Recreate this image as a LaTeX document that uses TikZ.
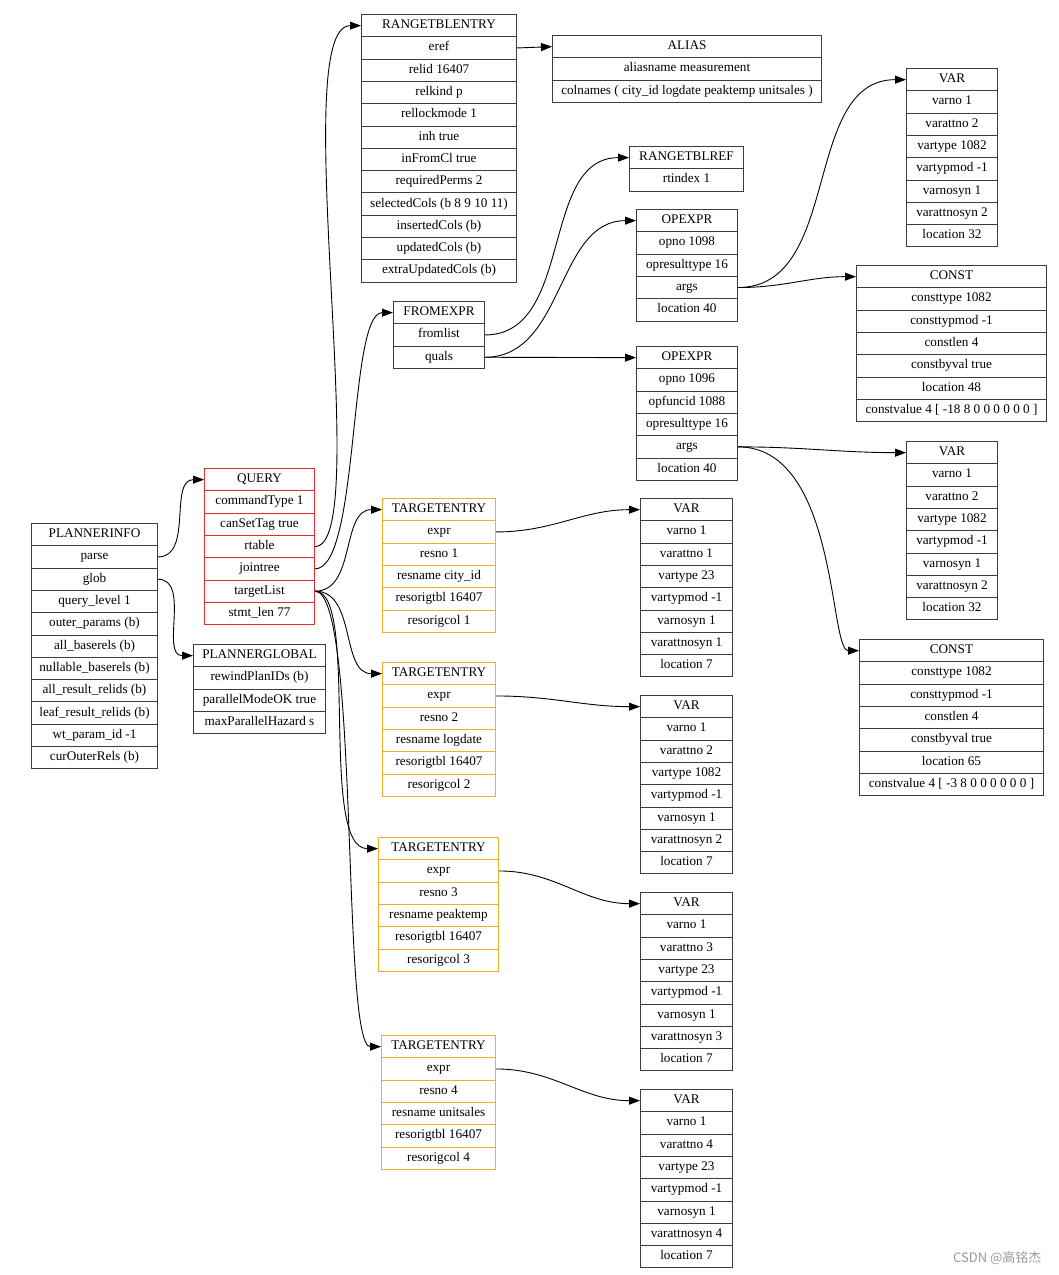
\documentclass[tikz,border=0pt]{standalone}
\usepackage{fontspec}
\setmainfont{Liberation Serif}
\newfontfamily\cjkfont{Noto Sans CJK SC}
\usetikzlibrary{arrows.meta}

\definecolor{querycol}{RGB}{222,45,45}
\definecolor{entrycol}{RGB}{247,172,40}
\definecolor{boxcol}{RGB}{60,60,60}

\tikzset{
  field/.style={draw=boxcol, line width=1pt, minimum height=22.3pt, inner sep=0pt,
                text height=9pt, text depth=3pt,
                anchor=north west, font=\fontsize{13.2}{15}\selectfont},
  queryfield/.style={field, draw=querycol},
  entryfield/.style={field, draw=entrycol},
  link/.style={-{Triangle[length=11pt,width=8pt]}, line width=0.9pt, black}
}

% one record: name, x, y, width, style, fields
\newcommand{\recordbox}[6]{%
  \foreach \txt [count=\i from 0] in {#6} {
    \node[#5, minimum width=#4pt] (#1-\i) at (#2,{#3+\i*\rowh}) {\txt};
  }%
}

\begin{document}
\begin{tikzpicture}[x=1pt,y=-1pt]

\pgfmathsetmacro{\rowh}{22.3}

\useasboundingbox (0,0) rectangle (1059,1275);

% left part
\recordbox{pi}{31}{523}{126}{field}{PLANNERINFO,parse,glob,query\_level 1,outer\_params (b),all\_baserels (b),nullable\_baserels (b),all\_result\_relids (b),leaf\_result\_relids (b),wt\_param\_id -1,curOuterRels (b)}
\recordbox{query}{204}{468}{110}{queryfield}{QUERY,commandType 1,canSetTag true,rtable,jointree,targetList,stmt\_len 77}
\recordbox{pg}{193}{644}{132}{field}{PLANNERGLOBAL,rewindPlanIDs (b),parallelModeOK true,maxParallelHazard s}

% range table and from expression
\recordbox{rte}{361}{14}{155}{field}{RANGETBLENTRY,eref,relid 16407,relkind p,rellockmode 1,inh true,inFromCl true,requiredPerms 2,selectedCols (b 8 9 10 11),insertedCols (b),updatedCols (b),extraUpdatedCols (b)}
\recordbox{alias}{552}{35}{269}{field}{ALIAS,aliasname measurement,colnames ( city\_id logdate peaktemp unitsales )}
\recordbox{from}{393}{301}{91}{field}{FROMEXPR,fromlist,quals}
\recordbox{rtr}{629}{146}{114}{field}{RANGETBLREF,rtindex 1}
\recordbox{opa}{636}{209}{101}{field}{OPEXPR,opno 1098,opresulttype 16,args,location 40}
\recordbox{opb}{636}{346}{101}{field}{OPEXPR,opno 1096,opfuncid 1088,opresulttype 16,args,location 40}
\recordbox{vara}{906}{68}{91}{field}{VAR,varno 1,varattno 2,vartype 1082,vartypmod -1,varnosyn 1,varattnosyn 2,location 32}
\recordbox{consta}{856}{265}{190}{field}{CONST,consttype 1082,consttypmod -1,constlen 4,constbyval true,location 48,constvalue 4 [ -18 8 0 0 0 0 0 0 ]}
\recordbox{varb}{906}{441}{91}{field}{VAR,varno 1,varattno 2,vartype 1082,vartypmod -1,varnosyn 1,varattnosyn 2,location 32}
\recordbox{constb}{859}{639}{184}{field}{CONST,consttype 1082,consttypmod -1,constlen 4,constbyval true,location 65,constvalue 4 [ -3 8 0 0 0 0 0 0 ]}

% target list
\recordbox{tea}{382}{498}{113}{entryfield}{TARGETENTRY,expr,resno 1,resname city\_id,resorigtbl 16407,resorigcol 1}
\recordbox{teb}{382}{662}{113}{entryfield}{TARGETENTRY,expr,resno 2,resname logdate,resorigtbl 16407,resorigcol 2}
\recordbox{tec}{378}{837}{120}{entryfield}{TARGETENTRY,expr,resno 3,resname peaktemp,resorigtbl 16407,resorigcol 3}
\recordbox{ted}{381}{1035}{114}{entryfield}{TARGETENTRY,expr,resno 4,resname unitsales,resorigtbl 16407,resorigcol 4}
\recordbox{tva}{640}{498}{92}{field}{VAR,varno 1,varattno 1,vartype 23,vartypmod -1,varnosyn 1,varattnosyn 1,location 7}
\recordbox{tvb}{640}{695}{92}{field}{VAR,varno 1,varattno 2,vartype 1082,vartypmod -1,varnosyn 1,varattnosyn 2,location 7}
\recordbox{tvc}{640}{892}{92}{field}{VAR,varno 1,varattno 3,vartype 23,vartypmod -1,varnosyn 1,varattnosyn 3,location 7}
\recordbox{tvd}{640}{1089}{92}{field}{VAR,varno 1,varattno 4,vartype 23,vartypmod -1,varnosyn 1,varattnosyn 4,location 7}

% edges
\draw[link] (pi-1.east) to[out=0,in=180] (query-0.west);
\draw[link] (pi-2.east) to[out=0,in=180] (pg-0.west);
\draw[link] (query-3.east) .. controls +(60,0) and +(-75,0) .. (rte-0.west);
\draw[link] (query-4.east) .. controls +(45,0) and +(-45,0) .. (from-0.west);
\draw[link] (query-5.east) to[out=0,in=180] (tea-0.west);
\draw[link] (query-5.east) to[out=0,in=180] (teb-0.west);
\draw[link] (query-5.east) .. controls +(45,0) and +(-60,0) .. (tec-0.west);
\draw[link] (query-5.east) .. controls +(45,0) and +(-40,0) .. (ted-0.west);
\draw[link] (rte-1.east) -- (alias-0.west);
\draw[link] (from-1.east) to[out=0,in=180] (rtr-0.west);
\draw[link] (from-2.east) to[out=0,in=180] (opa-0.west);
\draw[link] (from-2.east) -- (opb-0.west);
\draw[link] (opa-3.east) to[out=0,in=180] (vara-0.west);
\draw[link] (opa-3.east) to[out=0,in=180] (consta-0.west);
\draw[link] (opb-4.east) to[out=0,in=180] (varb-0.west);
\draw[link] (opb-4.east) .. controls +(100,0) and +(-30,0) .. (constb-0.west);
\draw[link] (tea-1.east) to[out=0,in=180] (tva-0.west);
\draw[link] (teb-1.east) to[out=0,in=180] (tvb-0.west);
\draw[link] (tec-1.east) to[out=0,in=180] (tvc-0.west);
\draw[link] (ted-1.east) to[out=0,in=180] (tvd-0.west);

% watermark
\node[anchor=east, text=black!40, font=\cjkfont\fontsize{13}{15}\selectfont] (mark) at (1045,1258) {CSDN @高铭杰};

\end{tikzpicture}
\end{document}
